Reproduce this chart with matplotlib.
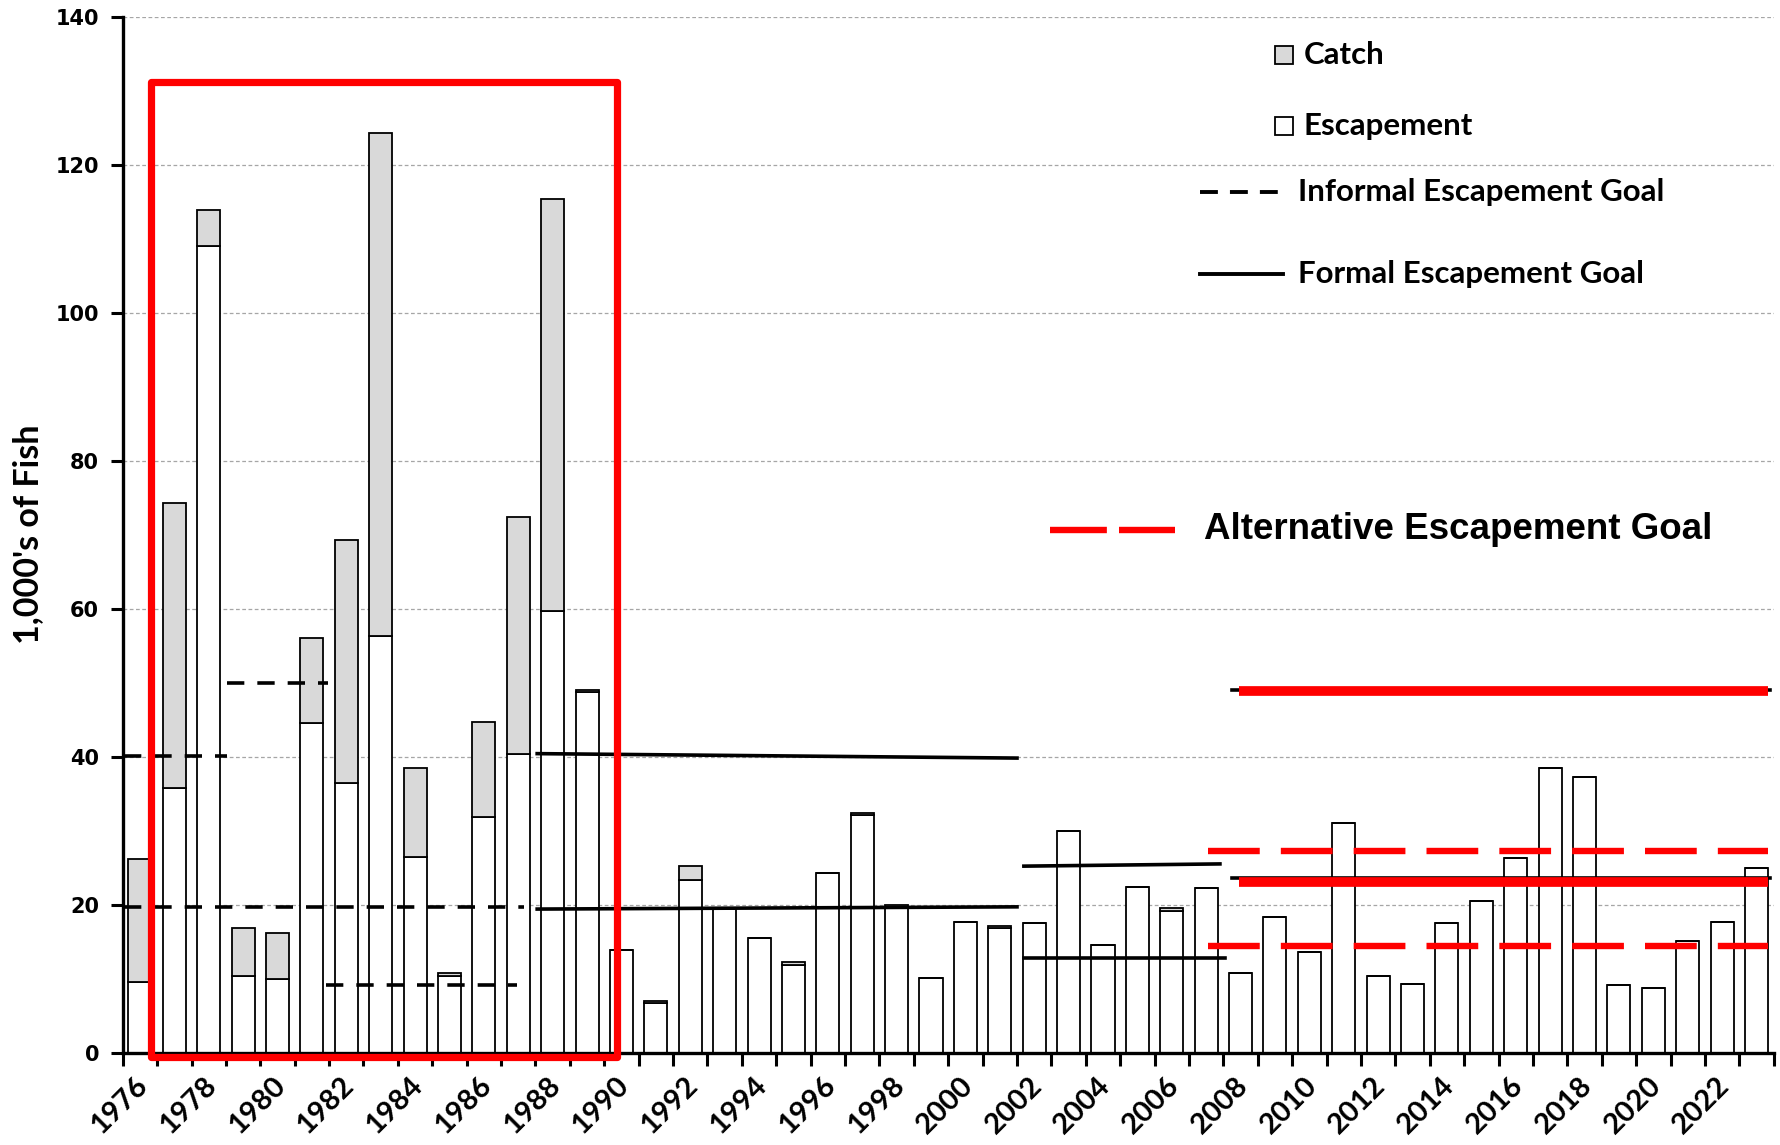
import matplotlib as mpl
import matplotlib.pyplot as plt
from matplotlib.patches import Rectangle
from matplotlib.lines import Line2D
import numpy as np

mpl.rcParams.update({
    "font.family": ["Lato", "DejaVu Sans"],
    "axes.linewidth": 2.4,
})

years = list(range(1976, 2024))
escapement = [9.6, 35.8, 109.1, 10.4, 10.0, 44.6, 36.6, 56.4, 26.5, 10.5,
              31.9, 40.4, 59.8, 48.8, 14.0, 6.8, 23.4, 19.5, 15.6, 12.0,
              24.4, 32.2, 19.7, 10.2, 17.8, 16.9, 17.6, 30.1, 14.6, 22.5,
              19.3, 22.3, 10.9, 18.4, 13.7, 31.1, 10.5, 9.4, 17.6, 20.6,
              26.4, 38.6, 37.3, 9.2, 8.8, 15.2, 17.8, 25.1]
catch = [16.7, 38.5, 4.9, 6.5, 6.2, 11.5, 32.8, 67.9, 12.1, 0.3,
         12.9, 32.1, 55.7, 0.3, 0.0, 0.3, 1.9, 0.0, 0.0, 0.3,
         0.0, 0.3, 0.3, 0.0, 0.0, 0.3, 0.0, 0.0, 0.0, 0.0,
         0.3, 0.0, 0.0, 0.0, 0.0, 0.0, 0.0, 0.0, 0.0, 0.0,
         0.0, 0.0, 0.0, 0.0, 0.0, 0.0, 0.0, 0.0]

# goal segments: (year start, year end, level at start, level at end)
informal_goals = [(1975.53, 1978.54, 40.2, 40.2),
                  (1975.53, 1987.16, 19.8, 19.8),
                  (1978.52, 1981.47, 50.0, 50.0),
                  (1981.40, 1986.96, 9.2, 9.2)]
formal_goals = [(1987.55, 2001.5, 40.5, 39.9),
                (1987.55, 2001.5, 19.5, 19.8),
                (2001.7, 2007.4, 25.3, 25.6),
                (2001.7, 2007.55, 12.9, 12.9),
                (2007.75, 2023.38, 49.1, 49.1),
                (2007.75, 2023.38, 23.7, 23.7)]
alt_solid = [(2007.96, 2023.32, 49.0), (2007.96, 2023.32, 23.1)]
alt_dashed = [(2007.05, 2023.32, 27.4), (2007.05, 2023.32, 14.5)]
box_years = (1976.33, 1989.86)
box_levels = (-0.46, 131.3)

fig = plt.figure(figsize=(17.81, 11.45), dpi=100, facecolor="white")
ax = fig.add_axes([0.0689, 0.080, 0.927, 0.905])

ax.set_axisbelow(True)
ax.yaxis.grid(True, color="#A6A6A6", lw=0.9, ls=(0, (3, 2)))

x = np.array(years)
esc = np.array(escapement)
ax.bar(x, esc, width=0.67, color="white", edgecolor="black", lw=1.3, zorder=2)
ax.bar(x, catch, width=0.67, bottom=esc, color="#D9D9D9", edgecolor="black", lw=1.3, zorder=2)

for x0, x1, y0, y1 in informal_goals:
    ax.plot([x0, x1], [y0, y1], color="black", lw=2.6, ls=(0, (4.8, 3.6)), zorder=3)
for x0, x1, y0, y1 in formal_goals:
    ax.plot([x0, x1], [y0, y1], color="black", lw=2.6, zorder=3)
for x0, x1, y in alt_solid:
    ax.plot([x0, x1], [y, y], color="#FF0000", lw=7.0, solid_capstyle="butt", zorder=4)
for x0, x1, y in alt_dashed:
    ax.plot([x0, x1], [y, y], color="#FF0000", lw=4.6, ls=(0, (8.1, 3.3)),
            dash_capstyle="butt", zorder=4)

ax.add_patch(Rectangle((box_years[0], box_levels[0]), box_years[1] - box_years[0],
                       box_levels[1] - box_levels[0], fill=False, ec="#FF0000",
                       lw=5.2, joinstyle="round", clip_on=False, zorder=5))

ax.set_xlim(1975.5, 2023.5)
ax.set_ylim(0, 140)
ax.spines["top"].set_visible(False)
ax.spines["right"].set_visible(False)

ax.set_xticks(np.arange(1975.5, 2024.0, 1.0))
ax.set_xticklabels([])
ax.set_xticks(np.array(years[::2]) + 0.1, [str(y) for y in years[::2]], minor=True)
ax.tick_params(axis="x", which="major", direction="out", length=9, width=2.2)
ax.tick_params(axis="x", which="minor", length=0, pad=20)
for lab in ax.get_xticklabels(minor=True):
    lab.set_rotation(45)
    lab.set_ha("right")
    lab.set_va("center")
    lab.set_rotation_mode("anchor")
    lab.set_fontsize(21)
    lab.set_fontweight("bold")

ax.set_yticks(np.arange(0, 141, 20))
ax.tick_params(axis="y", direction="out", length=9, width=2.2, pad=8)
for lab in ax.get_yticklabels():
    lab.set_family("DejaVu Sans")
    lab.set_fontsize(15)
    lab.set_fontweight("bold")

fig.text(0.016, 0.5336, "1,000's of Fish", rotation=90, ha="center", va="center",
         fontsize=24.5, fontweight="bold")

# legend
tr = ax.transAxes
ax.add_line(Line2D([0.7036], [0.9638], marker="s", ms=13, mfc="#D9D9D9", mec="black",
                   mew=1.3, transform=tr, clip_on=False))
ax.text(0.7153, 0.9638, "Catch", transform=tr, fontsize=22.5, fontweight="bold", va="center")
ax.add_line(Line2D([0.7036], [0.8947], marker="s", ms=13, mfc="white", mec="black",
                   mew=1.3, transform=tr, clip_on=False))
ax.text(0.7153, 0.8947, "Escapement", transform=tr, fontsize=22.5, fontweight="bold", va="center")
ax.add_line(Line2D([0.6527, 0.7008], [0.8311, 0.8311], color="black", lw=2.8,
                   ls=(0, (4.6, 3.1)), transform=tr))
ax.text(0.7118, 0.8311, "Informal Escapement Goal", transform=tr, fontsize=22.5,
        fontweight="bold", va="center")
ax.add_line(Line2D([0.6527, 0.7028], [0.7522, 0.7522], color="black", lw=2.8, transform=tr))
ax.text(0.7118, 0.7522, "Formal Escapement Goal", transform=tr, fontsize=22.5,
        fontweight="bold", va="center")
ax.add_line(Line2D([0.5619, 0.6376], [0.5055, 0.5055], color="#FF0000", lw=4.6,
                   ls=(0, (8.9, 1.9)), dash_capstyle="butt", transform=tr))
ax.text(0.6547, 0.5055, "Alternative Escapement Goal", transform=tr, fontsize=26.5,
        fontweight="bold", va="center", family="Liberation Sans")

fig.savefig("out.png", dpi=100, facecolor="white")
